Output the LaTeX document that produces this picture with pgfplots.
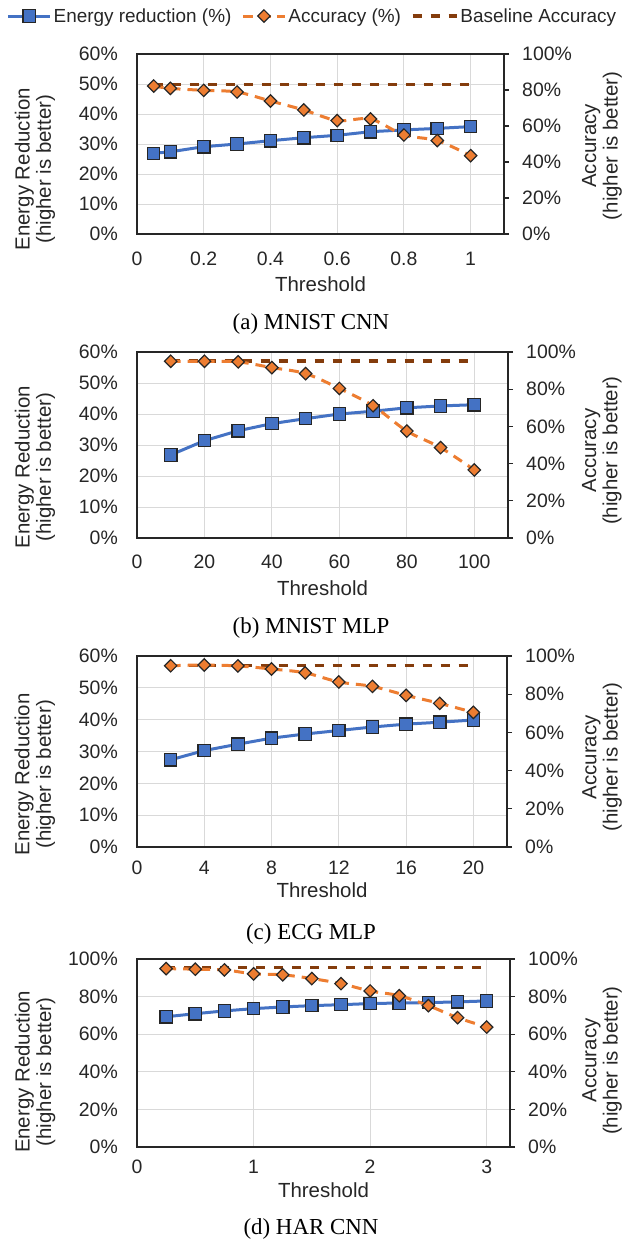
\documentclass[border=0pt]{standalone}
\usepackage{pgfplots}
\pgfplotsset{compat=1.18}
\usepackage{fontspec}
\setmainfont{Liberation Sans}
\newfontfamily\seriffont{Liberation Serif}
\definecolor{cblue}{HTML}{4472C4}
\definecolor{corange}{HTML}{ED7D31}
\definecolor{cbrown}{HTML}{843C0C}
\definecolor{caxis}{HTML}{262626}
\definecolor{cgrid}{HTML}{D9D9D9}
\definecolor{ctext}{HTML}{262626}
\newcommand\tfont{\fontsize{19.5}{21}\selectfont}
\newcommand\lfont{\fontsize{20.5}{21.5}\selectfont}
\newcommand\legfont{\fontsize{19}{21}\selectfont}
\newcommand\capfont{\seriffont\fontsize{23}{25}\selectfont}
\pgfplotsset{
  leftax/.style={
    scale only axis, anchor=south west, xmin=0, ymin=0,
    axis line style={draw=caxis, line width=1.5bp},
    grid=major, grid style={draw=cgrid, line width=1bp},
    major tick length=0pt, ytick pos=left, xtick pos=bottom,
    tick label style={font=\tfont, text=ctext, inner sep=0pt},
    yticklabel style={xshift=-19bp},
    every axis y label/.style={rotate=90, anchor=center, align=center, font=\lfont, text=ctext},
    every axis x label/.style={anchor=center, font=\lfont, text=ctext},
    /pgf/number format/assume math mode=true,
  },
  rightax/.style={
    scale only axis, anchor=south west, xmin=0, ymin=0, ymax=100,
    axis y line*=right, axis x line=none,
    axis line style={draw=caxis, line width=1.5bp},
    ytick={0,20,40,60,80,100}, yticklabels={0\%,20\%,40\%,60\%,80\%,100\%},
    tick align=outside, major tick length=5bp, tick style={draw=caxis, line width=1.2bp},
    tick label style={font=\tfont, text=ctext, inner sep=0pt},
    yticklabel style={xshift=13bp},
    every axis y label/.style={rotate=90, anchor=center, align=center, font=\lfont, text=ctext},
    /pgf/number format/assume math mode=true,
  },
  en/.style={color=cblue, line width=3bp, mark=square*, mark size=6.2bp,
    mark options={fill=cblue, draw=caxis, line width=1.2bp, solid},
    legend image code/.code={\draw[mark repeat=2,mark phase=2,##1] plot coordinates {(0bp,0bp) (21bp,0bp) (42bp,0bp)};}},
  acc/.style={color=corange, line width=3bp, dash pattern=on 10bp off 7bp, smooth,
    mark=square*, mark size=4.4bp,
    mark options={rotate=45, fill=corange, draw=caxis, line width=1.2bp, solid},
    legend image code/.code={\draw[mark repeat=2,mark phase=2,##1] plot coordinates {(0bp,0bp) (21bp,0bp) (42bp,0bp)};}},
  bl/.style={color=cbrown, line width=3.5bp, dash pattern=on 9bp off 9bp, mark=none,
    legend image code/.code={\draw[##1] (0bp,0bp) -- (44bp,0bp);}},
}
\begin{document}
\begin{tikzpicture}
\path[use as bounding box] (0,0) rectangle (623bp,-1243bp);

% ---------- (a) MNIST CNN ----------
\begin{axis}[leftax, at={(137bp,-234bp)}, width=367bp, height=180bp,
  xmax=1.1, ymax=60,
  xtick={0,0.2,0.4,0.6,0.8,1}, xticklabels={0,0.2,0.4,0.6,0.8,1},
  ytick={0,10,20,30,40,50,60}, yticklabels={0\%,10\%,20\%,30\%,40\%,50\%,60\%},
  xticklabel style={yshift=-18bp},
  xlabel={Threshold}, xlabel style={at={(axis description cs:0.5,0)}, yshift=-50bp},
  ylabel={Energy Reduction\\(higher is better)}, ylabel style={at={(axis description cs:-0.278,0.36)}}]
\addplot[en] coordinates {(0.05,26.9)(0.1,27.4)(0.2,29.1)(0.3,30.0)(0.4,31.1)(0.5,32.1)(0.6,32.9)(0.7,34.1)(0.8,34.7)(0.9,35.2)(1.0,35.8)};
\end{axis}
\begin{axis}[rightax, at={(137bp,-234bp)}, width=367bp, height=180bp, xmax=1.1,
  ylabel={Accuracy\\(higher is better)}, ylabel style={at={(axis description cs:1.267,0.49)}},
  legend style={at={(axis description cs:0.478,1.211)}, anchor=center, draw=none, fill=none,
    legend columns=3, font=\legfont, text=ctext, nodes={inner sep=2bp},
    /tikz/every even column/.append style={column sep=8bp}}]
\addlegendimage{en}\addlegendentry{Energy reduction (\%)}
\addlegendimage{acc}\addlegendentry{Accuracy (\%)}
\addlegendimage{bl}\addlegendentry{Baseline Accuracy}
\addplot[bl, forget plot] coordinates {(0.05,83.0)(1.0,83.0)};
\addplot[acc, forget plot] coordinates {(0.05,82.2)(0.1,80.9)(0.2,79.8)(0.3,78.9)(0.4,73.9)(0.5,68.9)(0.6,63.0)(0.7,63.9)(0.8,55.0)(0.9,51.9)(1.0,43.5)};
\end{axis}

% ---------- (b) MNIST MLP ----------
\begin{axis}[leftax, at={(137bp,-538bp)}, width=371bp, height=186bp,
  xmax=110, ymax=60,
  xtick={0,20,40,60,80,100}, xticklabels={0,20,40,60,80,100},
  ytick={0,10,20,30,40,50,60}, yticklabels={0\%,10\%,20\%,30\%,40\%,50\%,60\%},
  xticklabel style={yshift=-17bp},
  xlabel={Threshold}, xlabel style={at={(axis description cs:0.5,0)}, yshift=-50bp},
  ylabel={Energy Reduction\\(higher is better)}, ylabel style={at={(axis description cs:-0.275,0.38)}}]
\addplot[en] coordinates {(10,26.8)(20,31.4)(30,34.6)(40,36.9)(50,38.5)(60,40.0)(70,40.9)(80,42.0)(90,42.6)(100,43.0)};
\end{axis}
\begin{axis}[rightax, at={(137bp,-538bp)}, width=371bp, height=186bp, xmax=110,
  ylabel={Accuracy\\(higher is better)}, ylabel style={at={(axis description cs:1.253,0.47)}}]
\addplot[bl] coordinates {(10,95.2)(100,95.2)};
\addplot[acc] coordinates {(10,95.0)(20,95.0)(30,94.7)(40,91.6)(50,88.4)(60,80.4)(70,71.1)(80,57.5)(90,48.6)(100,36.6)};
\end{axis}

% ---------- (c) ECG MLP ----------
\begin{axis}[leftax, at={(137bp,-847bp)}, width=370bp, height=191bp,
  xmax=22, ymax=60,
  xtick={0,4,8,12,16,20}, xticklabels={0,4,8,12,16,20},
  ytick={0,10,20,30,40,50,60}, yticklabels={0\%,10\%,20\%,30\%,40\%,50\%,60\%},
  xticklabel style={yshift=-14bp},
  xlabel={Threshold}, xlabel style={at={(axis description cs:0.5,0)}, yshift=-43bp},
  ylabel={Energy Reduction\\(higher is better)}, ylabel style={at={(axis description cs:-0.276,0.38)}}]
\addplot[en] coordinates {(2,27.4)(4,30.3)(6,32.3)(8,34.2)(10,35.5)(12,36.6)(14,37.7)(16,38.6)(18,39.2)(20,39.9)};
\end{axis}
\begin{axis}[rightax, at={(137bp,-847bp)}, width=370bp, height=191bp, xmax=22,
  ylabel={Accuracy\\(higher is better)}, ylabel style={at={(axis description cs:1.257,0.47)}}]
\addplot[bl] coordinates {(2,94.9)(20,94.9)};
\addplot[acc] coordinates {(2,94.9)(4,95.3)(6,94.8)(8,93.2)(10,91.2)(12,86.4)(14,84.1)(16,79.4)(18,75.2)(20,70.5)};
\end{axis}

% ---------- (d) HAR CNN ----------
\begin{axis}[leftax, at={(137bp,-1147bp)}, width=373bp, height=188bp,
  xmax=3.2, ymax=100,
  xtick={0,1,2,3}, xticklabels={0,1,2,3},
  ytick={0,20,40,60,80,100}, yticklabels={0\%,20\%,40\%,60\%,80\%,100\%},
  xticklabel style={yshift=-13bp},
  xlabel={Threshold}, xlabel style={at={(axis description cs:0.5,0)}, yshift=-43bp},
  ylabel={Energy Reduction\\(higher is better)}, ylabel style={at={(axis description cs:-0.273,0.40)}}]
\addplot[en] coordinates {(0.25,69.3)(0.5,70.9)(0.75,72.4)(1,73.6)(1.25,74.5)(1.5,75.2)(1.75,75.7)(2,76.3)(2.25,76.6)(2.5,76.8)(2.75,77.2)(3,77.7)};
\end{axis}
\begin{axis}[rightax, at={(137bp,-1147bp)}, width=373bp, height=188bp, xmax=3.2,
  ylabel={Accuracy\\(higher is better)}, ylabel style={at={(axis description cs:1.247,0.46)}}]
\addplot[bl] coordinates {(0.25,95.4)(3,95.4)};
\addplot[acc] coordinates {(0.25,94.9)(0.5,94.6)(0.75,94.2)(1,92.1)(1.25,91.6)(1.5,89.6)(1.75,86.9)(2,83.0)(2.25,80.5)(2.5,75.2)(2.75,68.8)(3,63.8)};
\end{axis}

% ---------- captions ----------
\node[font=\capfont, text=black, anchor=base] at (311bp,-329bp) {(a) MNIST CNN};
\node[font=\capfont, text=black, anchor=base] at (311bp,-633bp) {(b) MNIST MLP};
\node[font=\capfont, text=black, anchor=base] at (311bp,-939bp) {(c) ECG MLP};
\node[font=\capfont, text=black, anchor=base] at (311bp,-1234bp) {(d) HAR CNN};
\end{tikzpicture}
\end{document}
